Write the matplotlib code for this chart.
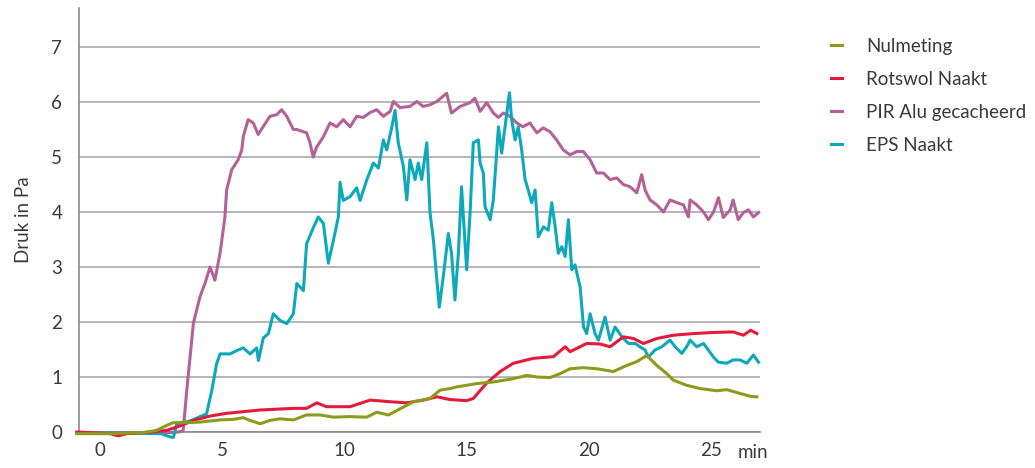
import matplotlib.pyplot as plt

plt.rcParams['font.family'] = ['Lato', 'DejaVu Sans']

# Nulmeting (groen)
x_nul = [-0.95, 0.41, 1.77, 2.32, 2.73, 3.0, 3.55, 4.09, 4.91, 5.45, 5.86, 6.14, 6.55, 6.95,
         7.36, 7.91, 8.45, 9.0, 9.55, 10.23, 10.91, 11.32, 11.8, 12.27, 12.82, 13.5, 13.91,
         14.32, 14.59, 15.41, 16.09, 16.91, 17.46, 17.87, 18.41, 18.82, 19.23, 19.78, 20.32,
         21.0, 21.55, 21.96, 22.37, 22.78, 23.19, 23.46, 24.0, 24.55, 25.23, 25.64, 26.19,
         26.6, 26.87]
y_nul = [-0.03, -0.03, -0.01, 0.03, 0.12, 0.17, 0.17, 0.18, 0.22, 0.23, 0.26, 0.21, 0.15, 0.21,
         0.24, 0.22, 0.31, 0.31, 0.27, 0.28, 0.27, 0.36, 0.31, 0.42, 0.55, 0.61, 0.76,
         0.79, 0.82, 0.88, 0.91, 0.97, 1.03, 1.0, 0.99, 1.06, 1.15, 1.17, 1.15,
         1.1, 1.21, 1.28, 1.39, 1.21, 1.06, 0.94, 0.85, 0.79, 0.75, 0.77, 0.7,
         0.65, 0.64]

# Rotswol Naakt (rood)
x_rot = [-0.95, 0.41, 0.75, 1.09, 2.18, 2.73, 3.27, 3.82, 4.5, 5.18, 6.55, 7.91, 8.45, 8.87,
         9.27, 10.23, 10.64, 11.05, 11.87, 12.55, 13.23, 13.78, 14.32, 15.0, 15.27, 15.82,
         16.37, 16.91, 17.73, 18.55, 19.03, 19.23, 19.91, 20.46, 20.87, 21.41, 21.82, 22.23,
         22.78, 23.46, 24.28, 25.1, 25.9, 26.32, 26.62, 26.87]
y_rot = [0.0, -0.03, -0.07, -0.03, 0.0, 0.03, 0.11, 0.21, 0.29, 0.34, 0.4, 0.43, 0.43, 0.53,
         0.46, 0.46, 0.52, 0.58, 0.55, 0.53, 0.58, 0.64, 0.59, 0.57, 0.61, 0.89,
         1.1, 1.25, 1.34, 1.37, 1.55, 1.46, 1.61, 1.6, 1.55, 1.73, 1.7, 1.61,
         1.7, 1.76, 1.79, 1.81, 1.82, 1.76, 1.85, 1.79]

# PIR Alu gecacheerd (paars)
x_pir = [-0.95, 1.0, 2.5, 3.2, 3.4, 3.55, 3.82, 4.09, 4.3, 4.5, 4.7, 4.91, 5.11, 5.18, 5.39,
         5.65, 5.8, 5.86, 6.06, 6.27, 6.47, 6.67, 6.95, 7.23, 7.43, 7.64, 7.91, 8.05, 8.45,
         8.59, 8.72, 8.86, 9.14, 9.41, 9.68, 9.95, 10.23, 10.5, 10.77, 11.05, 11.32, 11.59,
         11.87, 12.0, 12.27, 12.68, 12.96, 13.22, 13.5, 13.78, 14.18, 14.38, 14.73, 15.14,
         15.34, 15.55, 15.82, 16.09, 16.3, 16.5, 16.77, 17.05, 17.3, 17.59, 17.87, 18.13,
         18.41, 18.68, 18.95, 19.23, 19.5, 19.77, 20.05, 20.32, 20.59, 20.87, 21.14, 21.41,
         21.68, 21.96, 22.16, 22.3, 22.5, 22.78, 23.05, 23.32, 23.6, 23.87, 24.07, 24.14,
         24.41, 24.69, 24.89, 25.1, 25.3, 25.5, 25.78, 25.9, 26.11, 26.32, 26.53, 26.73,
         26.94]
y_pir = [-0.02, -0.02, -0.02, 0.0, 0.02, 0.76, 1.98, 2.46, 2.71, 3.0, 2.76, 3.25, 3.91, 4.4, 4.77,
         4.95, 5.13, 5.37, 5.68, 5.62, 5.41, 5.55, 5.74, 5.77, 5.86, 5.74, 5.5, 5.5, 5.44,
         5.26, 5.0, 5.18, 5.37, 5.62, 5.55, 5.68, 5.55, 5.74, 5.72, 5.81, 5.86, 5.74,
         5.83, 6.01, 5.9, 5.92, 6.01, 5.92, 5.95, 6.01, 6.16, 5.8, 5.92, 5.99,
         6.07, 5.83, 5.99, 5.8, 5.72, 5.8, 5.74, 5.62, 5.55, 5.62, 5.44, 5.53,
         5.46, 5.31, 5.13, 5.04, 5.1, 5.1, 4.95, 4.71, 4.71, 4.59, 4.62, 4.5,
         4.46, 4.35, 4.68, 4.4, 4.22, 4.13, 4.0, 4.22, 4.17, 4.13, 3.91, 4.22,
         4.13, 4.0, 3.86, 4.0, 4.26, 3.9, 4.04, 4.22, 3.86, 3.99, 4.04, 3.91,
         3.99]

# EPS Naakt (blauw)
x_eps = [-0.95, 1.0, 2.5, 2.8, 3.0, 3.14, 3.68, 4.36, 4.57, 4.77, 4.91, 5.32, 5.59, 5.86, 6.14,
         6.41, 6.48, 6.68, 6.89, 7.09, 7.36, 7.64, 7.91, 8.05, 8.32, 8.45, 8.73, 8.93, 9.14,
         9.34, 9.55, 9.75, 9.82, 9.95, 10.23, 10.5, 10.64, 10.91, 11.18, 11.39, 11.59, 11.73,
         11.94, 12.07, 12.2, 12.41, 12.55, 12.68, 12.89, 13.02, 13.16, 13.37, 13.5, 13.64,
         13.78, 13.88, 14.05, 14.25, 14.38, 14.52, 14.66, 14.79, 15.0, 15.14, 15.27, 15.48,
         15.55, 15.68, 15.75, 15.96, 16.09, 16.3, 16.43, 16.57, 16.64, 16.75, 16.84, 16.98,
         17.11, 17.25, 17.39, 17.52, 17.66, 17.8, 17.93, 18.14, 18.34, 18.48, 18.62, 18.75,
         18.89, 19.03, 19.16, 19.3, 19.43, 19.64, 19.78, 19.91, 20.05, 20.25, 20.39, 20.66,
         20.87, 21.07, 21.35, 21.62, 21.89, 22.09, 22.3, 22.43, 22.7, 22.98, 23.32, 23.53,
         23.8, 24.0, 24.14, 24.41, 24.69, 24.89, 25.1, 25.3, 25.64, 25.9, 26.19, 26.46,
         26.73, 26.94]
y_eps = [-0.02, -0.02, -0.03, -0.08, -0.1, 0.15, 0.2, 0.33, 0.75, 1.24, 1.42, 1.42, 1.48, 1.53, 1.42,
         1.53, 1.3, 1.71, 1.79, 2.15, 2.03, 1.97, 2.15, 2.7, 2.57, 3.42, 3.72, 3.91, 3.79,
         3.07, 3.49, 3.91, 4.54, 4.21, 4.28, 4.44, 4.21, 4.58, 4.89, 4.8, 5.31, 5.13,
         5.55, 5.85, 5.26, 4.83, 4.22, 4.95, 4.59, 4.89, 4.59, 5.26, 3.99, 3.49,
         2.76, 2.27, 2.85, 3.61, 3.25, 2.4, 3.25, 4.46, 2.95, 3.99, 5.26, 5.31,
         4.89, 4.71, 4.1, 3.86, 4.22, 5.55, 5.07, 5.55, 5.8, 6.17, 5.68, 5.31,
         5.55, 5.13, 4.59, 4.4, 4.17, 4.4, 3.55, 3.73, 3.67, 4.17, 3.73, 3.25,
         3.37, 3.19, 3.86, 2.95, 3.04, 2.64, 1.91, 1.79, 2.15, 1.79, 1.67, 2.09,
         1.67, 1.91, 1.73, 1.61, 1.61, 1.55, 1.49, 1.36, 1.49, 1.55, 1.67, 1.55,
         1.43, 1.55, 1.67, 1.55, 1.61, 1.49, 1.36, 1.27, 1.25, 1.31, 1.31, 1.25,
         1.4, 1.27]

labels = ['Nulmeting', 'Rotswol Naakt', 'PIR Alu gecacheerd', 'EPS Naakt']
colors = ['#8d9b1c', '#e41a3c', '#b4619a', '#0da8ba']

fig = plt.figure(figsize=(10.35, 4.68), dpi=100)
ax = fig.add_axes([79 / 1035, 36 / 468, 681 / 1035, 424 / 468])

series = [(x_nul, y_nul), (x_rot, y_rot), (x_pir, y_pir), (x_eps, y_eps)]
zorders = [6, 5, 3, 4]
for (xs, ys), lab, c, z in zip(series, labels, colors, zorders):
    ax.plot(xs, ys, color=c, lw=2.2, label=lab, zorder=z, clip_on=False,
            solid_joinstyle='round')

ax.set_xlim(-0.86, 27.0)
ax.set_ylim(0, 7.71)
ax.set_yticks(range(0, 8))
ax.set_xticks([0, 5, 10, 15, 20, 25])
ax.yaxis.grid(True, color='#a9a9a9', lw=1.2)
ax.set_axisbelow(True)
ax.tick_params(length=0, labelsize=13.5, colors='#3a3a3a')
ax.tick_params(axis='y', pad=12)
ax.tick_params(axis='x', pad=7)
for s in ['top', 'right']:
    ax.spines[s].set_visible(False)
for s in ['left', 'bottom']:
    ax.spines[s].set_color('#8a8a8a')
    ax.spines[s].set_linewidth(1.2)

ax.set_ylabel('Druk in Pa', fontsize=13.5, color='#3a3a3a', labelpad=14)
ax.text(26.1, -0.38, 'min', fontsize=13.5, color='#3a3a3a', ha='left', va='center')

fig.legend(loc='upper left', bbox_to_anchor=(814 / 1035, 1 - 21 / 468), frameon=False,
           fontsize=13.5, handlelength=0.6, handletextpad=1.3, labelspacing=0.85,
           labelcolor='#3a3a3a')

fig.savefig('out.png', dpi=100)
